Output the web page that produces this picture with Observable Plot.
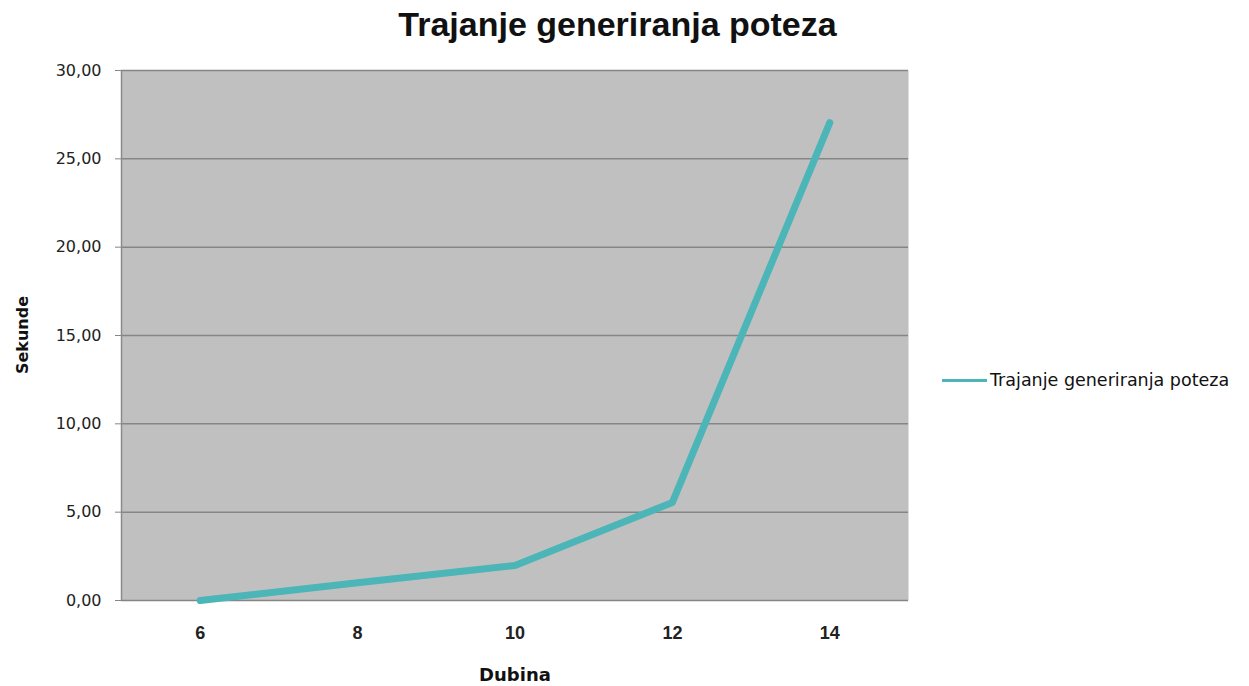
<!DOCTYPE html>
<html>
<head>
<meta charset="utf-8">
<script src="https://cdn.jsdelivr.net/npm/d3@7"></script>
<script src="https://cdn.jsdelivr.net/npm/@observablehq/plot@0.6"></script>
<style>
  html, body { margin: 0; padding: 0; background: #fff; }
  #wrap { position: relative; width: 1249px; height: 686px; overflow: hidden; }
  #title { position: absolute; left: 0; top: 4px; width: 1235px; text-align: center;
    font-family: "Liberation Sans Narrow", "Arial Narrow", "Liberation Sans", sans-serif;
    font-weight: bold; font-size: 34px; color: #111; line-height: 40px; }
  #chart { position: absolute; left: 0; top: 50px; }
  #legend { position: absolute; left: 942px; top: 370px; display: flex; align-items: center;
    font-family: "DejaVu Sans", Verdana, sans-serif; font-size: 17.5px; color: #111; }
  #legend .sw { width: 45px; height: 3px; background: #4bb5b8; margin-right: 3px; }
  #ylab { position: absolute; left: 22px; top: 335px; transform: translate(-50%, -50%) rotate(-90deg);
    font-family: "DejaVu Sans", Verdana, sans-serif; font-weight: bold; font-size: 16px; color: #111;
    white-space: nowrap; }
</style>
</head>
<body>
<div id="wrap">
  <div id="title">Trajanje generiranja poteza</div>
  <div id="chart"></div>
  <div id="ylab">Sekunde</div>
  <div id="legend"><span class="sw"></span><span>Trajanje generiranja poteza</span></div>
</div>
<script>
const depths = [6, 8, 10, 12, 14];
const seconds = [0.0, 1.0, 1.98, 5.55, 27.05];
const yTicks = [0, 5, 10, 15, 20, 25, 30];
const seriesName = "Trajanje generiranja poteza";

const data = depths.map((d, i) => ({depth: d, sec: seconds[i]}));
const fmt = v => v.toFixed(2).replace(".", ",");

const chart = Plot.plot({
  width: 1249,
  height: 636,
  marginTop: 20,
  marginBottom: 86,
  marginLeft: 121,
  marginRight: 341,
  style: {background: "transparent"},
  x: {domain: [5, 15], label: null},
  y: {domain: [0, 30], label: null},
  marks: [
    Plot.frame({fill: "#c0c0c0", stroke: null}),
    Plot.ruleY(yTicks, {stroke: "#858585", strokeWidth: 1.5}),
    Plot.ruleX([5], {stroke: "#8a8a8a", strokeWidth: 1.5}),
    Plot.axisY({ticks: yTicks, tickFormat: fmt, tickSize: 6, tickPadding: 14, stroke: "#858585",
      fontFamily: "DejaVu Sans, Verdana, sans-serif", fontSize: 16, fill: "#222", label: null}),
    Plot.axisX({ticks: depths, tickSize: 0, tickPadding: 26, tickFormat: d => String(d),
      fontFamily: "Liberation Sans Narrow, Arial Narrow, Liberation Sans, sans-serif", fontWeight: "bold",
      fontSize: 18, fill: "#222", label: null}),
    Plot.line(data, {x: "depth", y: "sec", stroke: "#4bb5b8", strokeWidth: 7,
      strokeLinejoin: "round", strokeLinecap: "round"}),
    Plot.text(["Dubina"], {frameAnchor: "bottom", dy: 80, text: d => d,
      fontFamily: "DejaVu Sans, Verdana, sans-serif", fontWeight: "bold", fontSize: 18, fill: "#111"})
  ]
});
document.getElementById("chart").appendChild(chart);
</script>
</body>
</html>
